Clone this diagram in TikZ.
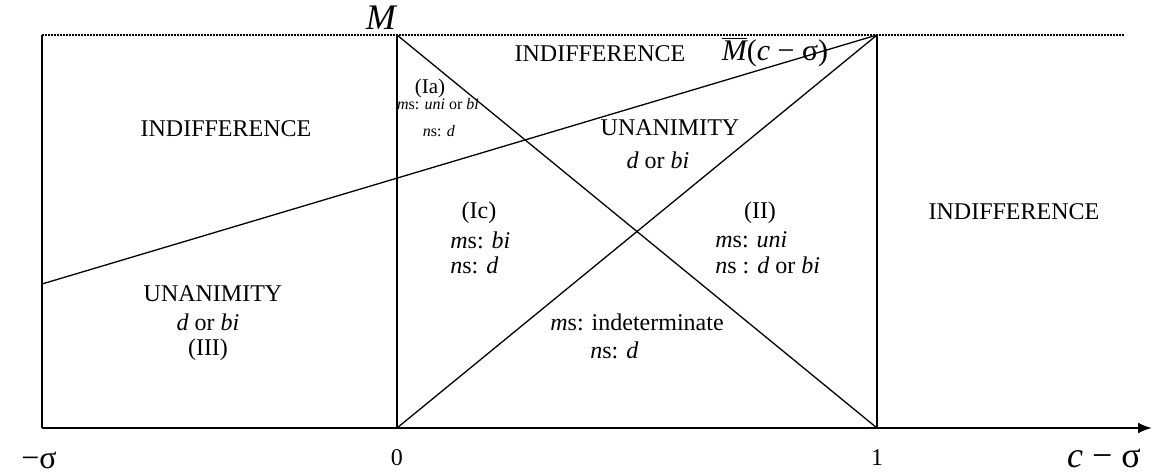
\documentclass[tikz,border=0pt]{standalone}
\usepackage{fontspec}
\setmainfont{Liberation Serif}
\usetikzlibrary{arrows.meta}

\begin{document}
\begin{tikzpicture}[x=0.5pt, y=0.5pt, >=Latex,
    region/.style={line width=0.65pt},
    lbl/.style={font=\fontsize{12}{14}\selectfont, inner sep=0pt},
    lblsmall/.style={font=\fontsize{8}{9}\selectfont, inner sep=0pt},
    lblbig/.style={font=\fontsize{18}{20}\selectfont, inner sep=0pt}]
        \useasboundingbox (-397,-44) rectangle (760,428);
        % corners of the regions
        \coordinate (leftBot) at (-355,0);
        \coordinate (leftTop) at (-355,393);
        \coordinate (zeroBot) at (0,0);
        \coordinate (zeroTop) at (0,393);
        \coordinate (oneBot) at (480,0);
        \coordinate (oneTop) at (480,393);
        \coordinate (lineLeft) at (-355,144);
        \coordinate (dotEnd) at (727,393);
        \coordinate (axisEnd) at (755,0);
        % frame and diagonals
        \draw[line width=1pt, dash pattern=on 0.8pt off 0.7pt] (leftTop) -- (dotEnd);
        \draw[region] (leftBot) -- (leftTop);
        \draw[region] (zeroBot) -- (zeroTop);
        \draw[region] (oneBot) -- (oneTop);
        \draw[region] (zeroTop) -- (oneBot);
        \draw[region] (zeroBot) -- (oneTop);
        \draw[region] (lineLeft) -- (oneTop);
        \draw[line width=1.1pt, -{Latex[length=7pt,width=5.5pt]}] (leftBot) -- (axisEnd);
        % axis labels
        \node[lblbig, anchor=base east] (mLbl) at (1,398) {\textit{M}};
        \node[font=\fontsize{16}{18}\selectfont, inner sep=0pt] (sigLbl) at (-358,-32) {−σ};
        \node[lbl] (zeroLbl) at (0,-30) {0};
        \node[lbl] (oneLbl) at (480,-30) {1};
        \node[lblbig] (csLbl) at (707,-30) {\textit{c} − σ};
        \node[font=\fontsize{15}{17}\selectfont, inner sep=0pt] (mBar) at (378,376)
            {$\overline{\mbox{\itshape M}}$(\textit{c} − σ)};
        % left strip
        \node[lbl] (indLeft) at (-171,299) {INDIFFERENCE};
        \node[lbl] (unaLeft) at (-184,134) {UNANIMITY};
        \node[lbl] (unaLeftB) at (-189,106) {\textit{d} or \textit{bi}};
        \node[lbl] (unaLeftC) at (-189,78) {(III)};
        % middle strip
        \node[lbl] (indTop) at (203,374) {INDIFFERENCE};
        \node[font=\fontsize{10.5}{12}\selectfont, inner sep=0pt] (iaLbl) at (33,340) {(Ia)};
        \node[lblsmall] (iaMs) at (41,324) {\textit{m}s: \textit{uni} or \textit{bi}};
        \node[lblsmall] (iaNs) at (42,297) {\textit{n}s: \textit{d}};
        \node[lbl] (unaMid) at (273,300) {UNANIMITY};
        \node[lbl] (unaMidB) at (261,268) {\textit{d} or \textit{bi}};
        \node[lbl] (icLbl) at (82,215) {(Ic)};
        \node[lbl, anchor=west] (icMs) at (53,188) {\textit{m}s: \textit{bi}};
        \node[lbl, anchor=west] (icNs) at (53,163) {\textit{n}s: \textit{d}};
        \node[lbl] (iiLbl) at (363,215) {(II)};
        \node[lbl, anchor=west] (iiMs) at (318,188) {\textit{m}s: \textit{uni}};
        \node[lbl, anchor=west] (iiNs) at (318,163) {\textit{n}s : \textit{d} or \textit{bi}};
        \node[lbl] (indetMs) at (240,106) {\textit{m}s: indeterminate};
        \node[lbl, anchor=west] (indetNs) at (193,78) {\textit{n}s: \textit{d}};
        % right strip
        \node[lbl] (indRight) at (617,216) {INDIFFERENCE};
      \end{tikzpicture}
\end{document}
